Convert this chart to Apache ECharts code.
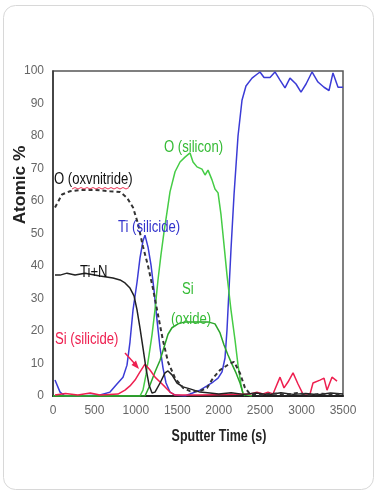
<!DOCTYPE html>
<html><head><meta charset="utf-8">
<script src="https://cdn.jsdelivr.net/npm/echarts@6/dist/echarts.min.js"></script>
<style>html,body{margin:0;padding:0;background:#fff}#c{width:378px;height:496px}</style>
</head><body><div id="c"></div>
<script>
// ---- Data ----
const xTicks = [0, 500, 1000, 1500, 2000, 2500, 3000, 3500];
const yTicks = [0, 10, 20, 30, 40, 50, 60, 70, 80, 90, 100];

// O (oxynitride) - dashed black
const oOxyT = [24,109,205,326,507,688,809,893,966,1026,1086,1147,1207,1267,1328,1388,1473,1569,1654,1774,1859,1931,2016,2136,2185,2257,2317,2378,2500,2650,2800,2950,3100,3250,3400,3500];
const oOxyV = [58,62,63,63.4,63.4,63,62.8,61,58,53,46,40,33,25,17,10.5,5.5,2.5,1.5,1.5,2.5,5.5,8,10,10.5,7,2.5,0.6,0.3,0.8,0.4,0.9,0.3,0.7,0.5,0.6];

// Ti+N - solid black
const tinT = [24,85,169,266,386,567,724,809,869,929,978,1014,1050,1086,1122,1159,1195,1231,1292,1352,1388,1436,1497,1569,1654,1774,1895,2000,2150,2300,2450,2600,2750,2900,3050,3200,3350,3500];
const tinV = [37.2,37.2,37.8,37.2,37.8,36.9,36.3,35.7,34.8,33.2,30.8,26.5,20.9,14.8,8.6,3.4,0.9,1.2,4,7.1,7.7,6.5,4,2.8,2.2,1.2,0.9,0.6,1,0.5,0.9,0.4,1,0.5,0.8,0.4,0.9,0.6];

// Ti (silicide) - blue
const tiSilT = [24,85,145,326,567,688,772,845,893,929,966,1014,1050,1086,1110,1147,1183,1219,1255,1292,1328,1364,1412,1473,1593,1654,1774,1859,1931,1992,2040,2076,2100,2124,2148,2185,2233,2281,2329,2402,2462,2498,2547,2619,2679,2740,2800,2860,2933,2993,3054,3126,3198,3271,3331,3379,3440,3500];
const tiSilV = [4.9,1.2,0,0,0.3,1.2,3.7,5.8,9.5,16.6,26.5,35,42.5,47.7,49.5,45.8,40.3,32.6,23.4,14.8,8.6,4,1.2,0.3,0,0.6,1.8,3.1,4.3,5.5,7.4,11.7,20.3,32.6,45,62,80,91,95.4,97.8,99,99.7,98,98,99.7,97.2,94.8,97.8,96,93.5,96,99.7,96.6,95,94,99.4,95,95];

// O (silicon) - bright green
const oSiT = [0,1050,1086,1122,1159,1195,1231,1267,1303,1340,1376,1412,1473,1533,1593,1654,1690,1738,1798,1835,1871,1919,1955,1992,2028,2064,2100,2148,2197,2233,2269,2293,2400];
const oSiV = [0,0,1.8,6.5,12.6,18.8,26.5,35.7,43.4,50.5,56.6,62.8,69,72,73.5,74.8,72,70.5,69.8,68,69.5,66.5,63.7,62.5,55.7,46.5,37.2,26.5,17.2,9.5,3.4,0.6,0];

// Si (oxide) - darker green
const siOxT = [0,1110,1171,1231,1292,1340,1388,1436,1509,1593,1678,1774,1871,1955,2016,2064,2112,2160,2209,2257,2293,2317];
const siOxV = [0,0,3.4,7.4,11,15,19,21,22.2,22.8,22.8,22.8,22.8,22.2,19.4,15.7,12.6,9.8,7.1,4,0.9,0];

// Si (silicide) - red
const siSilT = [24,150,300,450,567,784,869,929,990,1050,1110,1171,1231,1292,1352,1412,1473,1774,2378,2462,2535,2595,2655,2740,2788,2836,2897,2957,3017,3102,3138,3222,3271,3307,3367,3428];
const siSilV = [0.3,0.8,0.3,0.9,0.3,0.6,1.8,3.1,4.9,7.4,9.8,8,5.8,4.3,2.8,1.2,0.3,0.3,0.6,1.2,0.6,1.2,0.6,5.8,2.5,4.3,7.1,3.7,0.6,0.6,4,4.9,5.5,1.8,5.8,4.6];

const zip = (t, v) => t.map((x, i) => [x, v[i]]);

const FONT = '"Liberation Sans",Arial,sans-serif';
const chart = echarts.init(document.getElementById('c'), null, {renderer: 'canvas'});

const line = (name, t, v, color, width, type, z) => ({
  name, type: 'line', data: zip(t, v), showSymbol: false, symbol: 'none',
  lineStyle: {color, width, type}, itemStyle: {color}, z, animation: false, smooth: false
});

const txt = (text, x, y, color) => ({
  type: 'text', x, y, scaleX: 0.82, z: 20,
  style: {text, fill: color, font: '16px ' + FONT, textAlign: 'left', textVerticalAlign: 'middle'}
});

chart.setOption({
  animation: false,
  backgroundColor: '#fff',
  grid: {left: 53, top: 71, width: 290, height: 325, show: true, borderColor: '#555', borderWidth: 1.5, backgroundColor: 'transparent'},
  xAxis: {
    type: 'value', min: 0, max: 3500, interval: 500,
    axisLine: {show: true, lineStyle: {color: '#222', width: 2}},
    axisTick: {show: false}, splitLine: {show: false},
    axisLabel: {color: '#666', fontSize: 12, fontFamily: FONT, margin: 9, formatter: v => String(v)}
  },
  yAxis: {
    type: 'value', min: 0, max: 100, interval: 10,
    axisLine: {show: true, lineStyle: {color: '#333', width: 1.5}},
    axisTick: {show: false}, splitLine: {show: false},
    axisLabel: {color: '#666', fontSize: 12, fontFamily: FONT, margin: 9, formatter: v => String(v)}
  },
  series: [
    line('Ti (silicide)', tiSilT, tiSilV, '#3b3bd6', 1.5, 'solid', 2),
    line('O (silicon)', oSiT, oSiV, '#45cc45', 1.5, 'solid', 3),
    line('Si (oxide)', siOxT, siOxV, '#2aa52a', 1.5, 'solid', 3),
    line('Si (silicide)', siSilT, siSilV, '#ee2050', 1.5, 'solid', 4),
    line('Ti+N', tinT, tinV, '#222', 1.5, 'solid', 5),
    line('O (oxynitride)', oOxyT, oOxyV, '#333', 2, [4, 3], 6)
  ],
  graphic: [
    {type: 'rect', shape: {x: 3.5, y: 5.5, width: 370, height: 484, r: 12}, style: {fill: 'none', stroke: '#d8d8d8', lineWidth: 1}, z: -1},
    txt('O (oxvnitride)', 54, 180, '#111'),
    {type: 'polyline', shape: {points: [[72,189],[75,187.5],[78,189],[81,187.5],[84,189],[87,187.5],[90,189],[93,187.5],[96,189],[99,187.5],[102,189],[105,187.5],[108,189],[111,187.5],[114,189],[117,187.5],[120,189],[123,187.5],[126,189],[129,187.5]]}, style: {stroke: '#ee3355', lineWidth: 1, fill: 'none'}, z: 21},
    txt('Ti (silicide)', 118, 228, '#3333cc'),
    txt('Ti+N', 80, 273, '#111'),
    txt('O (silicon)', 164, 148, '#35bb35'),
    txt('Si', 182, 290, '#35bb35'),
    txt('(oxide)', 171, 320, '#35bb35'),
    txt('Si (silicide)', 55, 340, '#ee2050'),
    {type: 'line', shape: {x1: 125, y1: 353, x2: 135, y2: 364}, style: {stroke: '#ee2050', lineWidth: 1.5}, z: 20},
    {type: 'polygon', shape: {points: [[139, 369], [131.5, 365], [136, 360.5]]}, style: {fill: '#ee2050'}, z: 20},
    {type: 'text', x: 21, y: 185, rotation: Math.PI / 2, scaleX: 1.08, style: {text: 'Atomic %', fill: '#222', font: 'bold 16px ' + FONT, textAlign: 'center', textVerticalAlign: 'middle'}},
    {type: 'text', x: 219, y: 437, scaleX: 0.78, style: {text: 'Sputter Time (s)', fill: '#222', font: 'bold 16px ' + FONT, textAlign: 'center', textVerticalAlign: 'middle'}}
  ]
});
</script>
</body></html>
